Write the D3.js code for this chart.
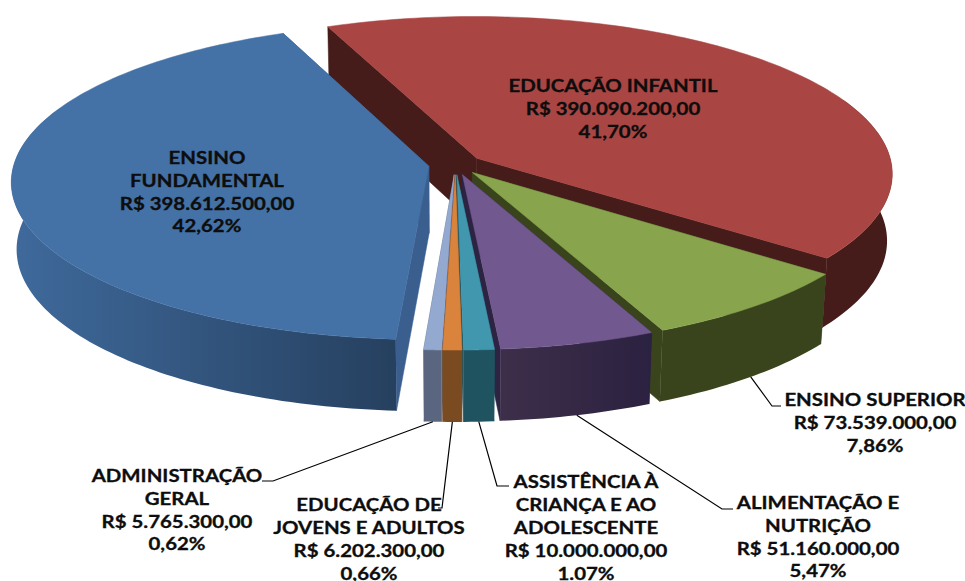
<!DOCTYPE html>
<html>
<head>
<meta charset="utf-8">
<script src="https://d3js.org/d3.v7.min.js"></script>
<style>
    html, body { margin: 0; padding: 0; background: #fff; overflow: hidden; }
    text { font-family: Lato, "Open Sans", sans-serif; font-weight: 700; font-size: 17px; fill: #0d0d0d; stroke: #0d0d0d; stroke-width: 0.3px; }
</style>
</head>
<body>
<div id="drawarea"></div>
<script>
// Chart data, in the clockwise order of the pie
const categories = [
    ["EDUCAÇÃO INFANTIL"],
    ["ENSINO SUPERIOR"],
    ["ALIMENTAÇÃO E", "NUTRIÇÃO"],
    ["ASSISTÊNCIA À", "CRIANÇA E AO", "ADOLESCENTE"],
    ["EDUCAÇÃO DE", "JOVENS E ADULTOS"],
    ["ADMINISTRAÇÃO", "GERAL"],
    ["ENSINO", "FUNDAMENTAL"]
];
const values = [390090200, 73539000, 51160000, 10000000, 6202300, 5765300, 398612500];
const percents = ["41,70%", "7,86%", "5,47%", "1.07%", "0,66%", "0,62%", "42,62%"];

// Colours: top face, wall at the front end of the slice, wall at the far end
const topColors = ["#a94542", "#88a44d", "#71588f", "#4197ae", "#d9833c", "#93a9d0", "#4471a6"];
const wallColors = [
    ["#451c19", "#451c19"], ["#39441d", "#39441d"], ["#2b2140", "#3d2f4a"], ["#205360", "#205360"],
    ["#7a4b20", "#7a4b20"], ["#5a6680", "#5a6680"], ["#26405f", "#3f6a9c"]
];
const radialColors = ["#451c19", "#39441d", "#2d2342", "#205360", "#7a4b20", "#5a6680", "#3a5f8f"];

// Label placement: centre x, centre of first line, leader line bend points (null = inside the slice)
const labelPos = [
    {x: 613, y: 86.5, leader: null},
    {x: 875, y: 400, leader: [[772, 406], [781, 406]]},
    {x: 818, y: 503, leader: [[722, 509], [733, 509]]},
    {x: 586, y: 482.5, leader: [[497, 486], [509, 486]]},
    {x: 369, y: 505.5, leader: [[442, 508], [438, 508]]},
    {x: 177, y: 476, leader: [[273, 481], [262, 481]]},
    {x: 207, y: 158, leader: null}
];

// 3D view of the pie
const cx = 455.5, cy = 164.5, rx = 415, ry = 156.5, thick = 67.6;
const persp = 0.0957, depthPersp = 0.012, explode = 0.065;
const lineGap = 22.8, textStretch = 1.2;

let svg = d3.select("div#drawarea").append("svg")
    .attr("width", 965)
    .attr("height", 581)
    .style("display", "block");
let defs = svg.append("defs");

const startAngle = -22.8 * Math.PI / 180;
const pie = d3.pie().sort(null).startAngle(startAngle).endAngle(startAngle + 2 * Math.PI);
const slices = pie(values);

// Ground plane (x right, y towards viewer, z down) to screen
function project(x, y, z) {
    const w = 1 - persp * y + depthPersp * z;
    return [cx + rx * x / w, cy + (ry * y + thick * z) / w];
}

function rimPoint(s, a, z) {
    const mid = (s.startAngle + s.endAngle) / 2;
    return project(
        explode * Math.sin(mid) + Math.sin(a),
        -explode * Math.cos(mid) - Math.cos(a),
        z
    );
}

function apexPoint(s, z) {
    const mid = (s.startAngle + s.endAngle) / 2;
    return project(explode * Math.sin(mid), -explode * Math.cos(mid), z);
}

function arcAngles(s) {
    const n = Math.max(4, Math.ceil((s.endAngle - s.startAngle) / 0.02));
    return d3.range(n + 1).map(i => s.startAngle + (s.endAngle - s.startAngle) * i / n);
}

const polygon = d3.line().curve(d3.curveLinearClosed);

function drawFace(points, color) {
    svg.append("path")
        .attr("d", polygon(points))
        .attr("fill", color)
        .attr("stroke", color)
        .attr("stroke-width", 0.5);
}

// Painter's order: back slices first
const drawOrder = d3.range(slices.length)
    .sort((a, b) => {
        const ya = -Math.cos((slices[a].startAngle + slices[a].endAngle) / 2);
        const yb = -Math.cos((slices[b].startAngle + slices[b].endAngle) / 2);
        return ya - yb;
    });

drawOrder.forEach(i => {
    const s = slices[i];
    const angles = arcAngles(s);

    // Radial walls
    [s.startAngle, s.endAngle].forEach(a => {
        drawFace([apexPoint(s, 0), rimPoint(s, a, 0), rimPoint(s, a, 1), apexPoint(s, 1)], radialColors[i]);
    });

    // Outer wall, only the part that can show below the top face, shaded left to right
    const front = angles.filter(a => -Math.cos(a) > -0.4);
    const xs = front.map(a => rimPoint(s, a, 0)[0]);
    const grad = defs.append("linearGradient")
        .attr("id", "wall" + i)
        .attr("gradientUnits", "userSpaceOnUse")
        .attr("x1", xs[0])
        .attr("x2", d3.extent(xs)[xs[0] > xs[xs.length - 1] ? 0 : 1])
        .attr("y1", 0)
        .attr("y2", 0);
    grad.append("stop").attr("offset", 0).attr("stop-color", wallColors[i][0]);
    grad.append("stop").attr("offset", 1).attr("stop-color", wallColors[i][1]);
    svg.append("path")
        .attr("d", polygon(front.map(a => rimPoint(s, a, 0)).concat(front.slice().reverse().map(a => rimPoint(s, a, 1)))))
        .attr("fill", "url(#wall" + i + ")");

    // Top face
    drawFace([apexPoint(s, 0)].concat(angles.map(a => rimPoint(s, a, 0))), topColors[i]);
});

// Leader lines start from the lower rim at the middle of the slice
slices.forEach((s, i) => {
    if (!labelPos[i].leader) return;
    const mid = (s.startAngle + s.endAngle) / 2;
    svg.append("path")
        .attr("d", d3.line()([rimPoint(s, mid, 1)].concat(labelPos[i].leader)))
        .attr("fill", "none")
        .attr("stroke", "#000")
        .attr("stroke-width", 1.2);
});

// Labels, stretched a little sideways like the reference
const brMoney = d3.formatLocale({decimal: ",", thousands: ".", grouping: [3], currency: ["R$ ", ""]}).format("$,.2f");

categories.forEach((names, i) => {
    const lines = names.concat([brMoney(values[i]), percents[i]]);
    svg.append("text")
        .attr("text-anchor", "middle")
        .attr("transform", "translate(" + labelPos[i].x + ",0) scale(" + textStretch + ",1)")
        .selectAll("tspan")
        .data(lines)
        .join("tspan")
        .attr("x", 0)
        .attr("y", (d, j) => labelPos[i].y + 6 + j * lineGap)
        .text(d => d);
});
</script>
</body>
</html>
